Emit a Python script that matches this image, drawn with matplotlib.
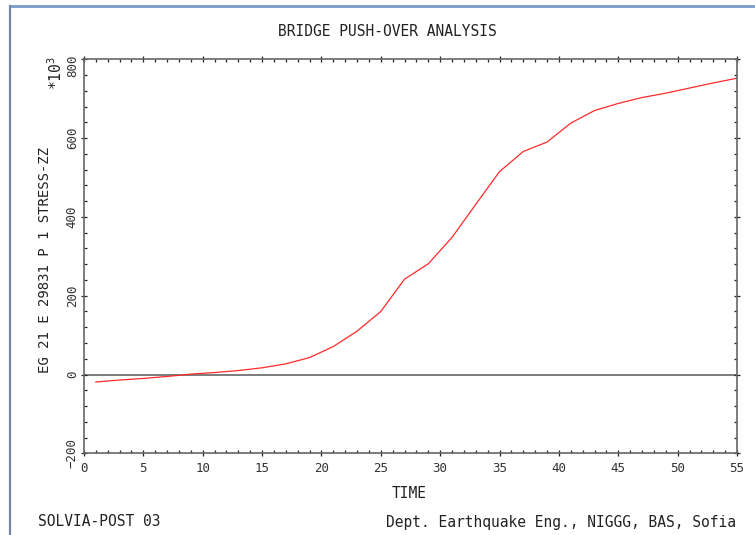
import matplotlib
matplotlib.use("Agg")
import matplotlib.pyplot as plt
import matplotlib.transforms as mtransforms
from matplotlib.ticker import MultipleLocator, FixedLocator
from matplotlib.lines import Line2D

# ---- data ----
time = [1, 3, 5, 7, 9, 11, 13, 15, 17, 19, 21, 23, 25, 27, 29, 31, 33, 35,
        37, 39, 41, 43, 45, 47, 49, 51, 53, 55]
stress = [-19, -14, -10, -5, 1, 5, 10, 17, 27, 43, 71, 110, 160, 242, 281, 348,
          432, 515, 566, 590, 638, 670, 688, 703, 714, 727, 740, 752]
x_ticks = [0, 5, 10, 15, 20, 25, 30, 35, 40, 45, 50, 55]
y_ticks = [-200, 0, 200, 400, 600, 800]

title = "BRIDGE PUSH-OVER ANALYSIS"
xlabel = "TIME"
ylabel = "EG 21 E 29831 P 1 STRESS-ZZ"
footer_left = "SOLVIA-POST 03"
footer_right = "Dept. Earthquake Eng., NIGGG, BAS, Sofia"

plt.rcParams['font.family'] = ['DejaVu Sans Mono', 'DejaVu Sans']
plt.rcParams['mathtext.fontset'] = 'custom'
plt.rcParams['mathtext.rm'] = 'DejaVu Sans Mono'

W, H = 755, 535
fig = plt.figure(figsize=(W / 100, H / 100), dpi=100)
fig.patch.set_facecolor('white')

L, R, T, B = 84, 737, 59.3, 453.3
ax = fig.add_axes([L / W, 1 - B / H, (R - L) / W, (B - T) / H])

ax.plot(time, stress, color='#ff2a2a', lw=0.9)
ax.axhline(0, color='#666666', lw=1.2, zorder=1)

ax.set_xlim(0, 55)
ax.set_ylim(-200, 800)
ax.xaxis.set_major_locator(FixedLocator(x_ticks))
ax.yaxis.set_major_locator(FixedLocator(y_ticks))
ax.xaxis.set_minor_locator(MultipleLocator(1))
ax.yaxis.set_minor_locator(MultipleLocator(40))

for s in ax.spines.values():
    s.set_color('#666666')
    s.set_linewidth(1.2)

ax.tick_params(which='major', direction='inout', length=4.5, width=0.9,
               color='#222222', top=True, right=True, labelsize=9,
               labelcolor='#333333')
ax.tick_params(which='minor', direction='in', length=2.2, width=0.9,
               color='#222222', top=True, right=True)
ax.tick_params(axis='x', which='major', pad=4)
ax.tick_params(axis='y', which='major', pad=1.5)
ylabels = ax.get_yticklabels()
for lab in ylabels:
    lab.set_rotation(90)
    lab.set_va('center')
# top label sits slightly lower, clear of the multiplier text
ylabels[-1].set_transform(ylabels[-1].get_transform() +
                          mtransforms.ScaledTranslation(0, -6 / 100,
                                                        fig.dpi_scale_trans))

txt = dict(color='#222222')
fig.text(387 / W, 1 - 31 / H, title, ha='center', va='center', fontsize=10.5, **txt)
fig.text(409 / W, 1 - 494 / H, xlabel, ha='center', va='center', fontsize=10.5, **txt)
fig.text(45 / W, 1 - 260 / H, ylabel, ha='center', va='center',
         rotation=90, fontsize=10, **txt)
fig.text(56 / W, 1 - 73 / H, r'$\mathregular{*10^{3}}$', ha='center',
         va='center', rotation=90, fontsize=10.5, **txt)
fig.text(38 / W, 1 - 522 / H, footer_left, ha='left', va='center', fontsize=10.5, **txt)
fig.text(736 / W, 1 - 522 / H, footer_right, ha='right', va='center',
         fontsize=10.5, **txt)

# window frame (screenshot border)
fig.add_artist(Line2D([10 / W, 1], [1 - 6 / H, 1 - 6 / H], color='#7a9cc8',
                      lw=2.0, transform=fig.transFigure))
fig.add_artist(Line2D([10 / W, 10 / W], [0, 1 - 6 / H], color='#6f88a8',
                      lw=1.6, transform=fig.transFigure))

fig.savefig('out.png', dpi=100, facecolor='white')
